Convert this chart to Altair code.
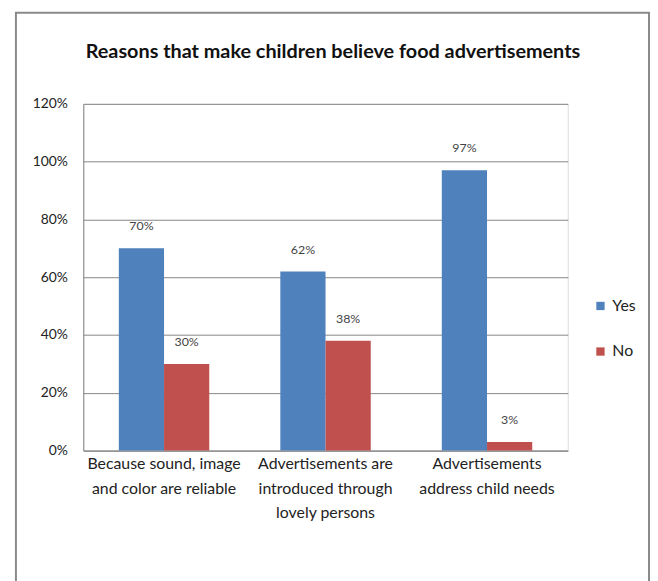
import altair as alt
import pandas as pd

title_text = "Reasons that make children believe food advertisements"
categories = [
    "Because sound, image\nand color are reliable",
    "Advertisements are\nintroduced through\nlovely persons",
    "Advertisements\naddress child needs",
]
series = ["Yes", "No"]
yes_values = [70, 62, 97]
no_values = [30, 38, 3]
y_ticks = [0, 20, 40, 60, 80, 100, 120]
colors = ["#4F81BD", "#C0504D"]

rows = []
for c, y, n in zip(categories, yes_values, no_values):
    rows.append({"category": c, "answer": "Yes", "value": y})
    rows.append({"category": c, "answer": "No", "value": n})
df = pd.DataFrame(rows)

FONT = "Lato, Liberation Sans, sans-serif"

x_enc = alt.X(
    "category:N",
    sort=categories,
    scale=alt.Scale(paddingInner=0.44, paddingOuter=0.22),
    axis=alt.Axis(
        title=None,
        labelAngle=0,
        labelExpr="split(datum.label, '\\n')",
        labelFontSize=16,
        labelLineHeight=25,
        labelPadding=5,
        labelColor="#222222",
        labelFont=FONT,
        ticks=False,
        domainColor="#868686",
        labelLimit=300,
    ),
)
y_enc = alt.Y(
    "value:Q",
    scale=alt.Scale(domain=[0, 120]),
    axis=alt.Axis(
        title=None,
        values=y_ticks,
        labelExpr="datum.value + '%'",
        labelFontSize=14,
        labelPadding=16,
        labelColor="#222222",
        labelFont=FONT,
        ticks=False,
        domain=True,
        domainColor="#868686",
        gridColor="#868686",
        gridWidth=1,
    ),
)
xoff = alt.XOffset("answer:N", sort=series)

bars = alt.Chart(df).mark_bar().encode(
    x=x_enc,
    xOffset=xoff,
    y=y_enc,
    color=alt.Color(
        "answer:N",
        sort=series,
        scale=alt.Scale(domain=series, range=colors),
        legend=alt.Legend(
            title=None,
            orient="none",
            legendX=514,
            legendY=196,
            symbolType="square",
            symbolSize=70,
            symbolStrokeWidth=0,
            labelFontSize=16,
            labelFont=FONT,
            labelColor="#222222",
            rowPadding=30,
        ),
    ),
)

labels = alt.Chart(df).mark_text(
    dy=-22, fontSize=12.5, color="#444444", font=FONT, baseline="middle"
).encode(
    x=alt.X("category:N", sort=categories),
    xOffset=xoff,
    y="value:Q",
    text=alt.Text("label:N"),
).transform_calculate(label="datum.value + '%'")

frame = alt.Chart(alt.Data(values=[{"f": 1}])).mark_rect(
    fill=None, stroke="#8a8a8a", strokeWidth=2
).encode(
    x=alt.value(-68), x2=alt.value(571), y=alt.value(-92), y2=alt.value(492)
)

title = alt.Chart(alt.Data(values=[{"t": title_text}])).mark_text(
    font=FONT, fontSize=20, fontWeight="bold", color="#111111",
    align="center", baseline="middle"
).encode(
    text="t:N", x=alt.value(252), y=alt.value(-52)
)

chart = alt.layer(frame, bars, labels, title).properties(
    width=489,
    height=350,
    padding={"left": 7, "top": 1, "right": 0, "bottom": 0},
).configure_view(stroke=None).configure(background="white")

chart.save("out.html", embed_options={"renderer": "svg", "actions": False})
